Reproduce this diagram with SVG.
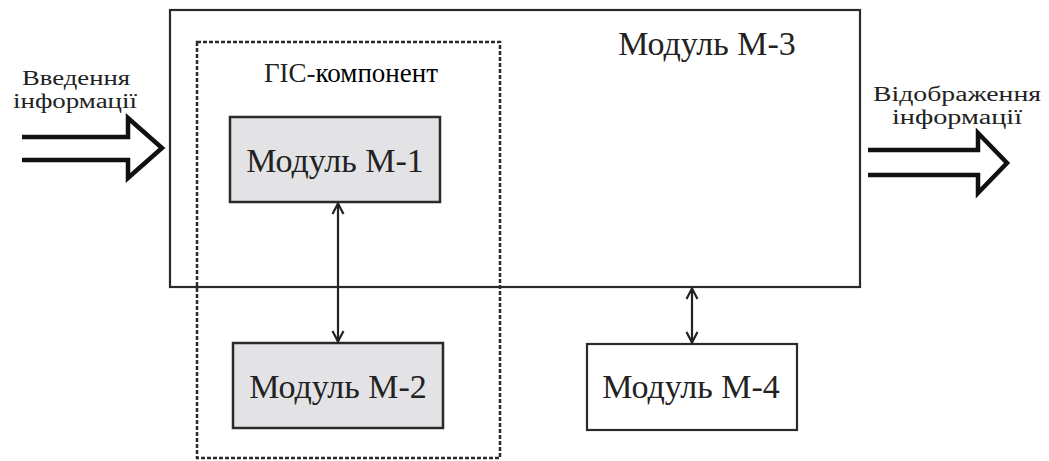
<svg xmlns="http://www.w3.org/2000/svg" width="1049" height="461" viewBox="0 0 1049 461">
<style>
.box{fill:#fff;stroke:#2a2a2a;stroke-width:2.2}
.grey{fill:#e3e3e6;stroke:#2a2a2a;stroke-width:2.5}
.dash{fill:none;stroke:#2a2a2a;stroke-width:2.5;stroke-dasharray:4 2}
.big{font-family:"Liberation Serif","Times New Roman",serif;font-size:34px;fill:#222;text-anchor:middle}
.lab{font-family:"Liberation Serif","Times New Roman",serif;font-size:20px;fill:#222;text-anchor:middle}
.io{fill:none;stroke:#111;stroke-width:4.5;stroke-linejoin:miter}
.conn{stroke:#222;stroke-width:2.2;fill:none}
</style>
<defs>
<marker id="ah" viewBox="0 0 14 14" refX="13" refY="7" markerWidth="14" markerHeight="14" markerUnits="userSpaceOnUse" orient="auto-start-reverse">
<path d="M2,1.5 L12.5,7 L2,12.5" fill="none" stroke="#222" stroke-width="2.2"/>
</marker>
</defs>
<rect width="1049" height="461" fill="#fff"/>
<g id="m3">
<rect class="box" x="170" y="10" width="690" height="277"/>
<text class="big" x="707" y="55">Модуль М-3</text>
</g>
<g id="gis">
<rect class="dash" x="197" y="42" width="303" height="416"/>
<text class="lab" x="351" y="82" style="font-size:27px">ГІС-<tspan style="fill:#000">компонент</tspan></text>
</g>
<g id="m1">
<rect class="grey" x="230" y="117" width="210" height="85"/>
<text class="big" x="335" y="172">Модуль М-1</text>
</g>
<g id="m2">
<rect class="grey" x="233" y="343" width="210" height="85"/>
<text class="big" x="338" y="398">Модуль М-2</text>
</g>
<g id="m4">
<rect class="box" x="587" y="344" width="210" height="86"/>
<text class="big" x="691" y="398">Модуль М-4</text>
</g>
<g id="input">
<text class="lab" x="76" y="85" textLength="108" lengthAdjust="spacingAndGlyphs">Введення</text>
<text class="lab" x="75" y="108" textLength="124" lengthAdjust="spacingAndGlyphs">інформації</text>
<path class="io" d="M22,137 L128,137 L128,118 L162,148 L128,178 L128,160 L22,160"/>
</g>
<g id="output">
<text class="lab" x="957" y="101" textLength="168" lengthAdjust="spacingAndGlyphs">Відображення</text>
<text class="lab" x="957" y="124" textLength="130" lengthAdjust="spacingAndGlyphs">інформації</text>
<path class="io" d="M868,150 L978,150 L978,133 L1007,163 L978,193 L978,175 L868,175"/>
</g>
<g id="connectors">
<line class="conn" x1="338" y1="203" x2="338" y2="342" marker-start="url(#ah)" marker-end="url(#ah)"/>
<line class="conn" x1="692" y1="288" x2="692" y2="343" marker-start="url(#ah)" marker-end="url(#ah)"/>
</g>
</svg>
